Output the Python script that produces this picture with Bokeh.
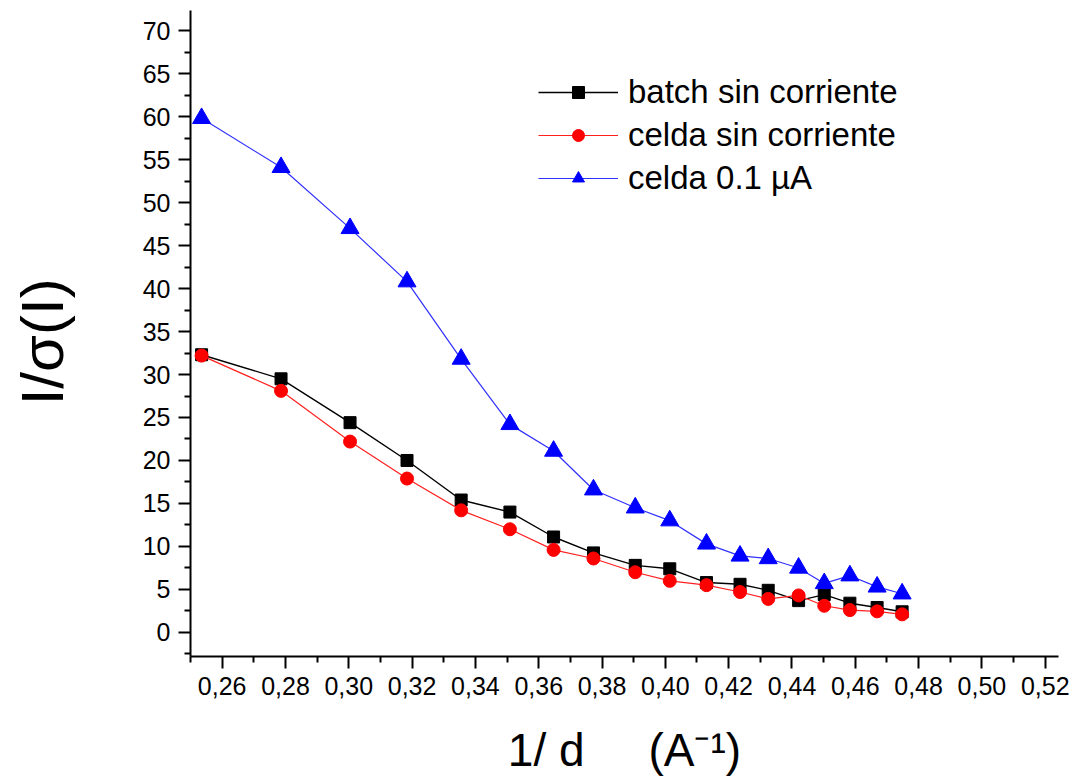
from bokeh.plotting import figure
from bokeh.models import FixedTicker, CustomJSTickFormatter, Range1d, Legend
from bokeh.embed import file_html
from bokeh.resources import INLINE

# 1/d values (A^-1) shared by the three series
inv_d = [0.2535, 0.2786, 0.3004, 0.3184, 0.3355, 0.3509, 0.3647, 0.3773, 0.3905,
         0.4014, 0.4130, 0.4236, 0.4325, 0.4421, 0.4502, 0.4583, 0.4669, 0.4748]

# I/sigma(I) for each condition
batch_sin = [32.3, 29.5, 24.4, 20.0, 15.4, 14.0, 11.1, 9.25, 7.8,
             7.4, 5.8, 5.6, 4.9, 3.7, 4.4, 3.4, 2.9, 2.4]
celda_sin = [32.2, 28.1, 22.2, 17.9, 14.2, 12.0, 9.6, 8.6, 7.0,
             6.0, 5.5, 4.7, 3.9, 4.3, 3.1, 2.6, 2.45, 2.1]
celda_01 = [59.8, 54.1, 47.0, 40.8, 31.8, 24.2, 21.1, 16.6, 14.5,
            13.0, 10.3, 8.9, 8.6, 7.5, 5.7, 6.6, 5.3, 4.5]

x_major = [0.26, 0.28, 0.30, 0.32, 0.34, 0.36, 0.38, 0.40, 0.42, 0.44, 0.46, 0.48, 0.50, 0.52]
x_minor = [0.25, 0.27, 0.29, 0.31, 0.33, 0.35, 0.37, 0.39, 0.41, 0.43, 0.45, 0.47, 0.49, 0.51]
y_major = [0, 5, 10, 15, 20, 25, 30, 35, 40, 45, 50, 55, 60, 65, 70]
y_minor = [-2.5, 2.5, 7.5, 12.5, 17.5, 22.5, 27.5, 32.5, 37.5, 42.5, 47.5, 52.5, 57.5, 62.5, 67.5]

FONT = "Liberation Sans"
NBSP = "\u00a0"

p = figure(width=1070, height=778, output_backend="svg", toolbar_location=None,
           x_range=Range1d(0.25, 0.5242), y_range=Range1d(-2.8, 72.34),
           min_border_left=190, min_border_right=12, min_border_top=10, min_border_bottom=121)
p.outline_line_color = None
p.grid.visible = False
p.background_fill_color = "white"
p.border_fill_color = "white"

p.axis.axis_line_width = 2
p.axis.axis_line_color = "black"
p.axis.major_tick_line_width = 2
p.axis.minor_tick_line_width = 2
p.axis.major_tick_in = 0
p.axis.minor_tick_in = 0
p.axis.major_tick_out = 12
p.axis.minor_tick_out = 6
p.axis.major_label_text_font = FONT
p.axis.major_label_text_font_size = "25px"
p.axis.major_label_text_color = "black"
p.axis.major_label_standoff = 8

p.xaxis.ticker = FixedTicker(ticks=x_major, minor_ticks=x_minor)
p.yaxis.ticker = FixedTicker(ticks=y_major, minor_ticks=y_minor)
p.xaxis.formatter = CustomJSTickFormatter(code="return tick.toFixed(2).replace('.', ',');")

p.yaxis.axis_label = "I/σ(I)" + NBSP
p.yaxis.axis_label_text_font = FONT
p.yaxis.axis_label_text_font_size = "60px"
p.yaxis.axis_label_text_font_style = "normal"
p.yaxis.axis_label_text_color = "black"
p.yaxis.axis_label_standoff = 64

p.xaxis.axis_label = "1/ d" + NBSP * 5 + "(A⁻¹)"
p.xaxis.axis_label_text_font = FONT
p.xaxis.axis_label_text_font_size = "46px"
p.xaxis.axis_label_text_font_style = "normal"
p.xaxis.axis_label_text_color = "black"
p.xaxis.axis_label_standoff = 26

r_b_line = p.line(inv_d, batch_sin, line_color="black", line_width=1.4)
r_b_mark = p.scatter(inv_d, batch_sin, marker="square", size=12, fill_color="black", line_color="black")
r_c_line = p.line(inv_d, celda_sin, line_color="#ff2020", line_width=1.2)
r_c_mark = p.scatter(inv_d, celda_sin, marker="circle", size=13, fill_color="red", line_color="red")
r_u_line = p.line(inv_d, celda_01, line_color="#3030ff", line_width=1.2)
r_u_mark = p.scatter(inv_d, celda_01, marker="triangle", size=18, fill_color="blue", line_color="blue")

legend = Legend(items=[("batch sin corriente", [r_b_line, r_b_mark]),
                       ("celda sin corriente", [r_c_line, r_c_mark]),
                       ("celda 0.1 µA", [r_u_line, r_u_mark])],
                location=(348, 459))
legend.label_text_font = FONT
legend.label_text_font_size = "33px"
legend.label_text_color = "black"
legend.glyph_width = 80
legend.glyph_height = 30
legend.label_height = 30
legend.label_standoff = 10
legend.spacing = 5
legend.padding = 0
legend.margin = 0
legend.border_line_color = None
legend.background_fill_alpha = 0
p.add_layout(legend, "center")

open("out.html", "w").write(file_html(p, INLINE))
